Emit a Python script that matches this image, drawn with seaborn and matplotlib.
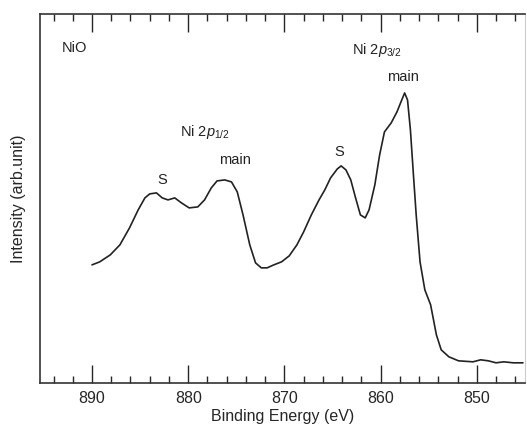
import numpy as np
import pandas as pd
import matplotlib
matplotlib.use("Agg")
import matplotlib.pyplot as plt
import seaborn as sns
from matplotlib.ticker import MultipleLocator

# Ni 2p XPS spectrum of NiO
energy = [890.0, 889.2, 888.1, 887.1, 886.1, 885.2, 884.5, 884.0, 883.3, 882.7,
          882.1, 881.4, 880.7, 879.9, 879.0, 878.3, 877.6, 877.0, 876.2, 875.5,
          874.9, 874.3, 873.6, 873.0, 872.4, 871.8, 871.1, 870.3, 869.5, 868.7,
          868.0, 867.2, 866.4, 865.8, 865.2, 864.5, 864.1, 863.6, 863.1, 862.6,
          862.1, 861.6, 861.2, 860.6, 860.1, 859.6, 858.9, 858.3, 857.8, 857.5,
          857.2, 856.9, 856.6, 856.3, 855.9, 855.4, 854.8, 854.2, 853.7, 852.9,
          851.9, 850.4, 849.6, 848.8, 848.0, 847.2, 846.2, 845.2]
intensity = [118, 121, 128, 138, 155, 173, 185, 189, 190, 185,
             183, 185, 180, 175, 176, 183, 195, 202, 203, 201,
             191, 168, 138, 120, 115, 115, 118, 121, 127, 138,
             151, 168, 183, 193, 205, 214, 217, 213, 203, 185,
             168, 165, 173, 198, 228, 251, 260, 271, 283, 290,
             283, 253, 210, 168, 121, 93, 78, 48, 33, 26,
             22, 21, 23, 22, 20, 21, 20, 20]

labels = ["NiO", "Ni 2$p_{1/2}$", "main", "S", "S", "Ni 2$p_{3/2}$", "main"]
label_x = [893.1, 878.3, 875.1, 882.7, 864.3, 860.4, 857.7]
label_y = [335, 251, 223, 203, 231, 333, 306]

df = pd.DataFrame({"energy": energy, "intensity": intensity})

sns.set_style("ticks")
plt.rcParams["font.family"] = ["Liberation Sans", "DejaVu Sans"]
plt.rcParams["mathtext.fontset"] = "custom"
plt.rcParams["mathtext.it"] = "Liberation Sans:italic"
plt.rcParams["mathtext.rm"] = "Liberation Sans"

fig = plt.figure(figsize=(5.27, 4.37), dpi=100)
ax = fig.add_axes([0.076, 0.124, 0.92, 0.844])
sns.lineplot(data=df, x="energy", y="intensity", sort=False, color="#222222",
             linewidth=1.2, ax=ax)

for t, x, y in zip(labels, label_x, label_y):
    ha = "left" if t == "NiO" else "center"
    ax.text(x, y, t, ha=ha, va="center", fontsize=10.5, color="#222222")

ax.set_xlim(895.4, 845.0)
ax.set_ylim(0, 369)
ax.xaxis.set_major_locator(MultipleLocator(10))
ax.xaxis.set_minor_locator(MultipleLocator(2))
ax.tick_params(axis="x", which="major", direction="in", length=13, width=1,
               top=True, labelsize=11.5, pad=6)
ax.tick_params(axis="x", which="minor", direction="in", length=5, width=1, top=True)
ax.set_yticks([])
for s in ax.spines.values():
    s.set_linewidth(1.2)
    s.set_color("#333333")
ax.spines["right"].set_color("#cccccc")
ax.spines["right"].set_linewidth(0.8)
ax.set_xlabel("Binding Energy (eV)", fontsize=11.5, labelpad=2)
ax.set_ylabel("Intensity (arb.unit)", fontsize=11.5, labelpad=10)

fig.savefig("out.png", dpi=100)
